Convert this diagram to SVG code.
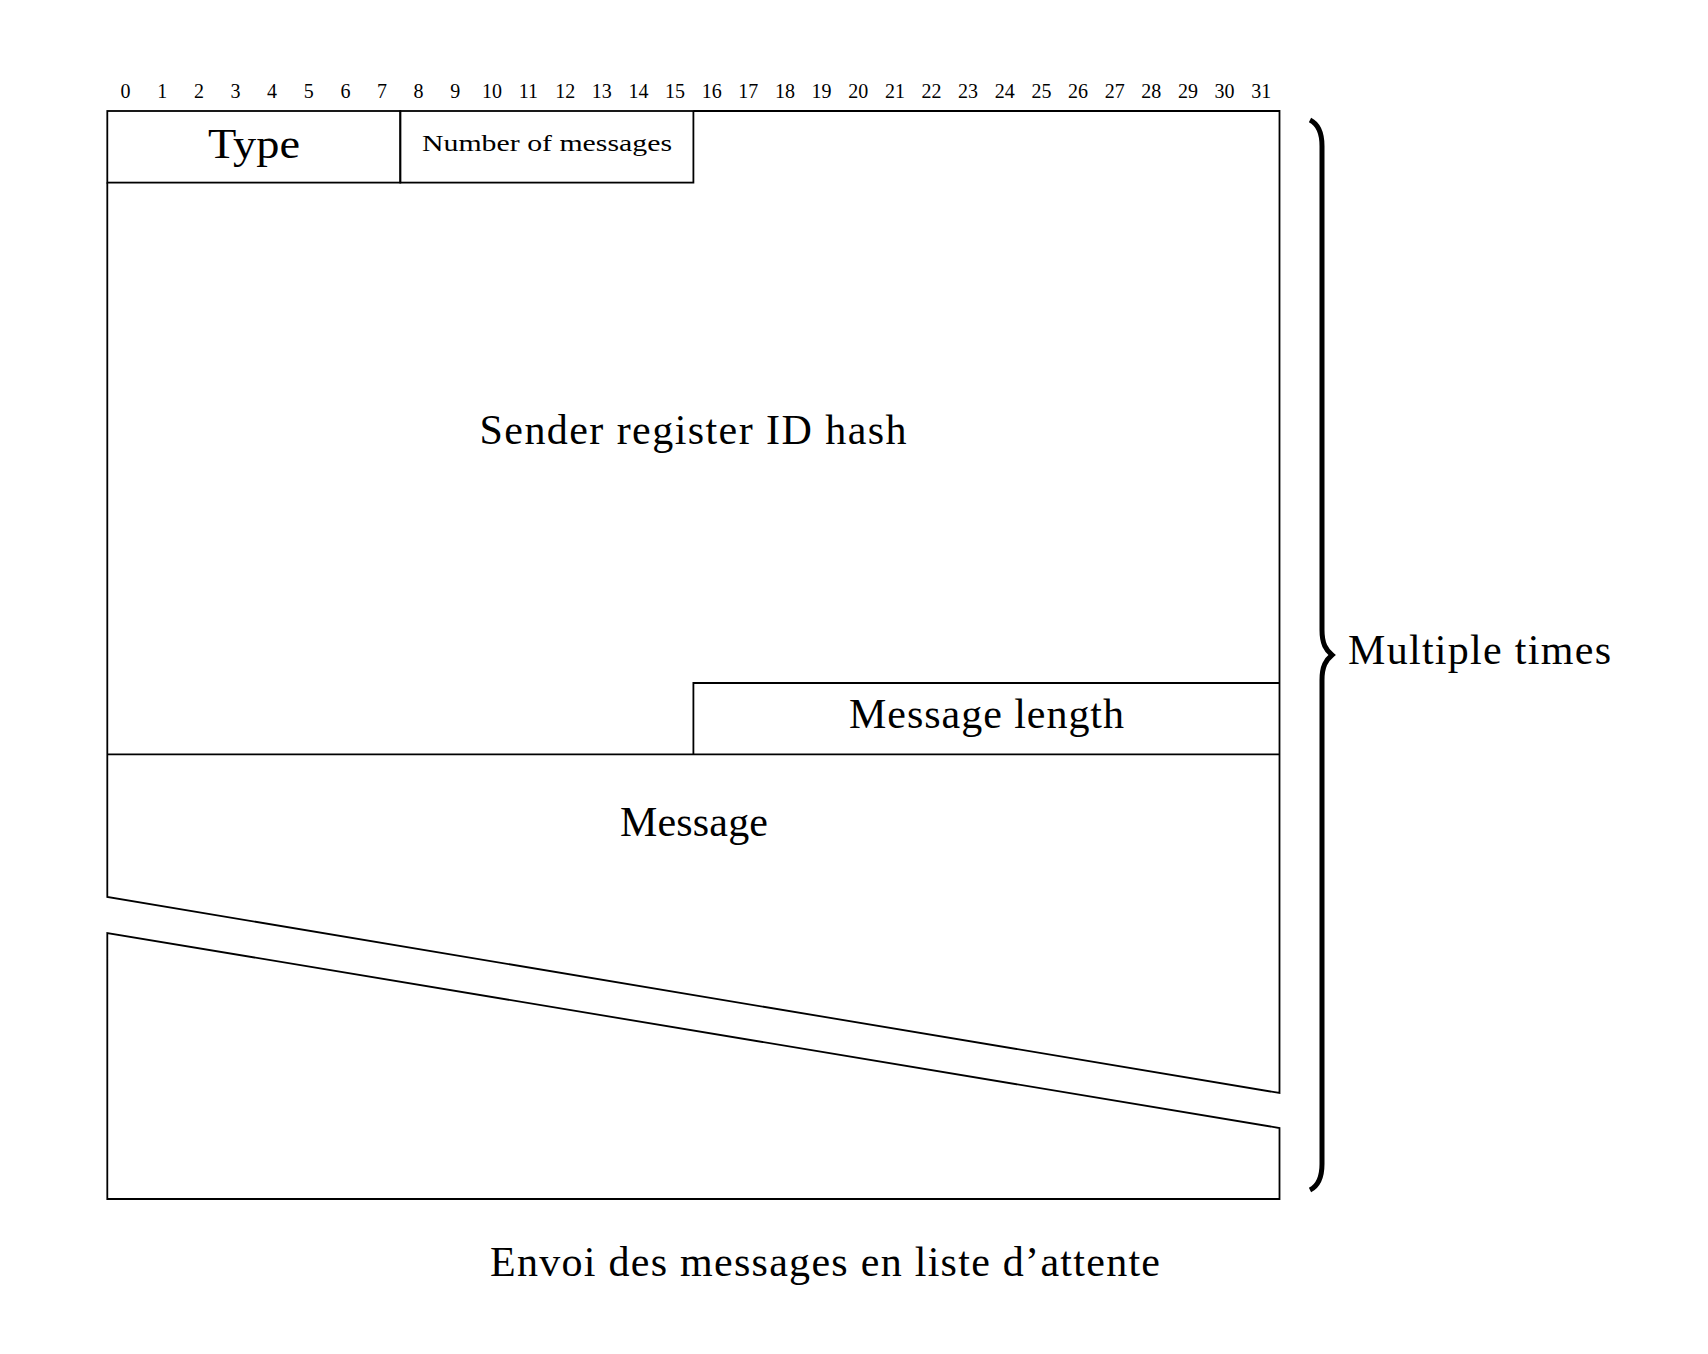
<svg xmlns="http://www.w3.org/2000/svg" width="1708" height="1354" viewBox="0 0 1708 1354">
<style>
.ln{fill:none;stroke:#000;stroke-width:1.8;stroke-linejoin:miter}
.t{font-family:"Liberation Serif","DejaVu Serif",serif;fill:#000}
.big{font-size:42px}
.bit{font-size:20px;text-anchor:middle}
</style>
<rect width="1708" height="1354" fill="#fff"/>
<g id="bits" class="t bit">
<text x="125.6" y="98">0</text><text x="162.2" y="98">1</text><text x="198.9" y="98">2</text><text x="235.5" y="98">3</text>
<text x="272.1" y="98">4</text><text x="308.8" y="98">5</text><text x="345.4" y="98">6</text><text x="382.0" y="98">7</text>
<text x="418.6" y="98">8</text><text x="455.3" y="98">9</text><text x="491.9" y="98">10</text><text x="528.5" y="98">11</text>
<text x="565.2" y="98">12</text><text x="601.8" y="98">13</text><text x="638.4" y="98">14</text><text x="675.1" y="98">15</text>
<text x="711.7" y="98">16</text><text x="748.3" y="98">17</text><text x="785.0" y="98">18</text><text x="821.6" y="98">19</text>
<text x="858.2" y="98">20</text><text x="894.9" y="98">21</text><text x="931.5" y="98">22</text><text x="968.1" y="98">23</text>
<text x="1004.8" y="98">24</text><text x="1041.4" y="98">25</text><text x="1078.0" y="98">26</text><text x="1114.7" y="98">27</text>
<text x="1151.3" y="98">28</text><text x="1187.9" y="98">29</text><text x="1224.6" y="98">30</text><text x="1261.2" y="98">31</text>
</g>
<g id="type">
<rect class="ln" x="107.3" y="111" width="293" height="71.6"/>
<text class="t big" x="254" y="158" text-anchor="middle" textLength="92" lengthAdjust="spacingAndGlyphs">Type</text>
</g>
<g id="number-of-messages">
<rect class="ln" x="400.3" y="111" width="293.1" height="71.6"/>
<text class="t" x="547" y="150.5" font-size="23" text-anchor="middle" textLength="250" lengthAdjust="spacingAndGlyphs">Number of messages</text>
</g>
<g id="sender-register-id-hash">
<path class="ln" d="M693.4,111 H1279.5 V1093 L107.3,897 V182.6"/>
<text class="t big" x="693" y="444" text-anchor="middle" textLength="427" lengthAdjust="spacing">Sender register ID hash</text>
</g>
<g id="message-length">
<path class="ln" d="M693.4,754.3 V683 H1279.5"/>
<text class="t big" x="986.5" y="728" text-anchor="middle" textLength="275" lengthAdjust="spacing">Message length</text>
</g>
<g id="message">
<path class="ln" d="M107.3,754.3 H1279.5"/>
<text class="t big" x="694" y="835.5" text-anchor="middle" textLength="148" lengthAdjust="spacing">Message</text>
</g>
<g id="message-end">
<path class="ln" d="M107.3,933 V1199 H1279.5 V1128 Z"/>
</g>
<g id="connectors">
<path d="M1310,120 C1318,124 1322,132 1322,146 V630 C1322,644 1326,650 1332,655 C1326,660 1322,666 1322,680 V1164 C1322,1178 1318,1186 1310,1190" fill="none" stroke="#000" stroke-width="5"/>
</g>
<g id="multiple-times">
<text class="t big" x="1348" y="664" textLength="263" lengthAdjust="spacing">Multiple times</text>
</g>
<g id="caption">
<text class="t big" x="825" y="1276" text-anchor="middle" textLength="670" lengthAdjust="spacing">Envoi des messages en liste d’attente</text>
</g>
</svg>
